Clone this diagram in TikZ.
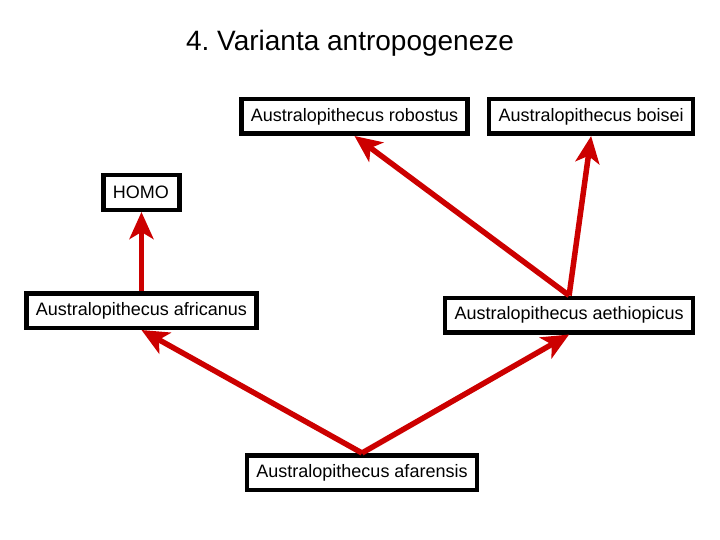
\documentclass[tikz,border=0pt]{standalone}
\usepackage{fontspec}
\setmainfont{Liberation Sans}
\usetikzlibrary{arrows.meta, positioning}
\definecolor{arrowred}{RGB}{204,0,0}

\begin{document}
\begin{tikzpicture}[x=1bp, y=-1bp]
% Define styles
\tikzstyle{box} = [rectangle, draw, line width=4.5bp, fill=white, inner xsep=9.5bp, inner ysep=0pt, minimum height=34.5bp, font=\fontsize{18bp}{20bp}\selectfont]
\tikzstyle{arrow} = [draw=arrowred, line width=5.5bp, -{Stealth[length=27bp, width=24bp, inset=7bp]}]
\useasboundingbox (0,0) rectangle (720,540);

% Title
\node (title) at (350,43) {\fontsize{28bp}{32bp}\selectfont 4.\ Varianta antropogeneze};

% Top row
\node (robostus) [box] at (354.5,116.5) {Australopithecus robostus};
\node (boisei) [box, right=17bp of robostus] {Australopithecus boisei};

% Middle row
\node (aethiopicus) [box, below=159.5bp of boisei.south east, anchor=north east] {Australopithecus aethiopicus};
\node (africanus) [box, left=184bp of aethiopicus, yshift=4.5bp] {Australopithecus africanus};
\node (homo) [box, above=79bp of africanus, text width=57bp, align=left] {HOMO};

% Bottom
\node (afarensis) [box] at (362,472.5) {Australopithecus afarensis};

% Arrows
\draw [arrow] (afarensis.north) -- (africanus.south);
\draw [arrow] (afarensis.north) -- (aethiopicus.south);
\draw [arrow] (africanus.north) -- (homo.south);
\draw [arrow] (aethiopicus.north) -- (robostus.south);
\draw [arrow] (aethiopicus.north) -- (boisei.south);
\end{tikzpicture}
\end{document}
